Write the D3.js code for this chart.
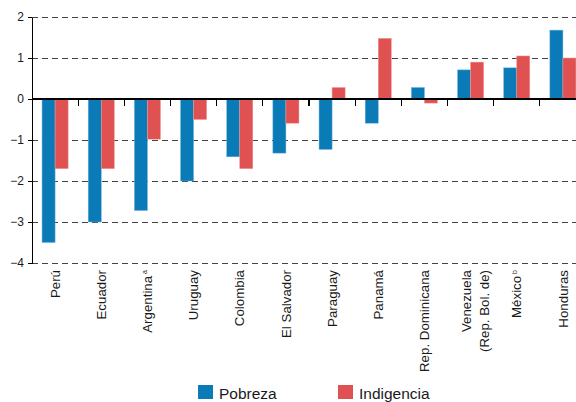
<!DOCTYPE html>
<html lang="es">
<head>
    <meta charset="UTF-8">
    <title>Pobreza e indigencia</title>
    <style>
        body { margin: 0; background: #fff; }
        #chart text { font-family: "Liberation Sans", Arial, sans-serif; fill: #1a1a1a; }
        .grid line { stroke: #444; stroke-width: 1; stroke-dasharray: 6,4; }
        .axis path, .axis line { stroke: #000; shape-rendering: crispEdges; }
        .axis text { font-size: 12px; }
        .cat-label { font-size: 13.3px; }
        .legend-text { font-size: 15.5px; }
    </style>
    <script src="https://d3js.org/d3.v7.min.js"></script>
</head>
<body>
    <div id="chart"></div>
    <script>
        // Data
        const countries = ['Perú', 'Ecuador', 'Argentina', 'Uruguay', 'Colombia', 'El Salvador',
            'Paraguay', 'Panamá', 'Rep. Dominicana', 'Venezuela', 'México', 'Honduras'];
        const notes = ['', '', 'a', '', '', '', '', '', '', '', 'b', ''];
        const secondLine = ['', '', '', '', '', '', '', '', '', '(Rep. Bol. de)', '', ''];
        const pobreza = [-3.5, -3.0, -2.72, -2.0, -1.41, -1.32, -1.23, -0.59, 0.28, 0.71, 0.76, 1.68];
        const indigencia = [-1.7, -1.7, -0.98, -0.5, -1.7, -0.59, 0.28, 1.48, -0.1, 0.9, 1.05, 1.0];
        const seriesNames = ['Pobreza', 'Indigencia'];
        const colors = ['#0a7bb7', '#e05151'];
        const edgeColors = ['#6fb3d9', '#f09a9a'];
        const yTicks = [2, 1, 0, -1, -2, -3, -4];

        const W = 576, H = 402;
        const plotLeft = 32, plotRight = 586, plotTop = 17, plotBottom = 263;

        const svg = d3.select('#chart').append('svg')
            .attr('width', W).attr('height', H);

        const x = d3.scaleBand().domain(countries).range([plotLeft, plotRight]).padding(0);
        const x1 = d3.scaleBand().domain(seriesNames).range([0, x.bandwidth()])
            .paddingInner(0).paddingOuter(0.77);
        const y = d3.scaleLinear().domain([-4, 2]).range([plotBottom, plotTop]);

        // dashed grid lines
        svg.append('g').attr('class', 'grid')
            .selectAll('line')
            .data(yTicks.filter(d => d !== 0))
            .enter().append('line')
            .attr('x1', plotLeft).attr('x2', W)
            .attr('y1', d => Math.round(y(d)) + 0.5)
            .attr('y2', d => Math.round(y(d)) + 0.5);

        // bars
        const rows = countries.map((c, i) => ({ c, vals: [pobreza[i], indigencia[i]] }));
        const groups = svg.selectAll('.grp').data(rows).enter().append('g')
            .attr('class', 'grp')
            .attr('transform', d => `translate(${x(d.c)},0)`);
        groups.selectAll('rect')
            .data(d => d.vals.map((v, j) => ({ s: seriesNames[j], v, j })))
            .enter().append('rect')
            .attr('x', d => x1(d.s))
            .attr('width', x1.bandwidth())
            .attr('y', d => y(Math.max(0, d.v)))
            .attr('height', d => Math.abs(y(d.v) - y(0)))
            .attr('fill', d => colors[d.j])
            .attr('stroke', d => edgeColors[d.j])
            .attr('stroke-width', 0.5);

        // y axis
        svg.append('g').attr('class', 'axis')
            .attr('transform', `translate(${plotLeft},0)`)
            .call(d3.axisLeft(y).tickValues(yTicks).tickFormat(d3.format('d'))
                .tickSize(4).tickSizeOuter(0).tickPadding(4))
            .call(g => g.select('.domain').attr('stroke-width', 1.5));

        // zero line with category ticks pointing down
        const zero = svg.append('g').attr('class', 'axis')
            .attr('transform', `translate(0,${y(0)})`);
        zero.append('line').attr('x1', plotLeft).attr('x2', W).attr('stroke', '#000').attr('stroke-width', 1.5);
        zero.selectAll('.tk').data(countries.slice(1))
            .enter().append('line').attr('class', 'tk')
            .attr('x1', d => x(d)).attr('x2', d => x(d))
            .attr('y1', 0).attr('y2', 7)
            .attr('stroke', '#000').attr('stroke-width', 1.2);

        // category labels (rotated)
        const labels = svg.selectAll('.cat').data(countries).enter().append('g')
            .attr('class', 'cat')
            .attr('transform', d => `translate(${x(d) + x.bandwidth() / 2},${plotBottom + 7}) rotate(-90)`);
        labels.each(function (d, i) {
            const g = d3.select(this);
            const t = g.append('text').attr('class', 'cat-label')
                .attr('text-anchor', 'end')
                .attr('dy', secondLine[i] ? '0.0em' : '0.35em');
            t.append('tspan').text(d);
            if (notes[i]) {
                t.append('tspan').text('\u00a0' + notes[i])
                    .attr('font-size', '7px').attr('dy', '-0.7em');
            }
            if (secondLine[i]) {
                g.append('text').attr('class', 'cat-label')
                    .attr('text-anchor', 'end')
                    .attr('dy', '1.35em')
                    .text(secondLine[i]);
            }
        });

        // legend
        const legendX = [198, 338];
        const legend = svg.selectAll('.legend').data(seriesNames).enter().append('g')
            .attr('class', 'legend')
            .attr('transform', (d, i) => `translate(${legendX[i]},385)`);
        legend.append('rect').attr('width', 15).attr('height', 14)
            .attr('fill', (d, i) => colors[i]);
        legend.append('text').attr('class', 'legend-text')
            .attr('x', 21).attr('y', 14).text(d => d);
    </script>
</body>
</html>
